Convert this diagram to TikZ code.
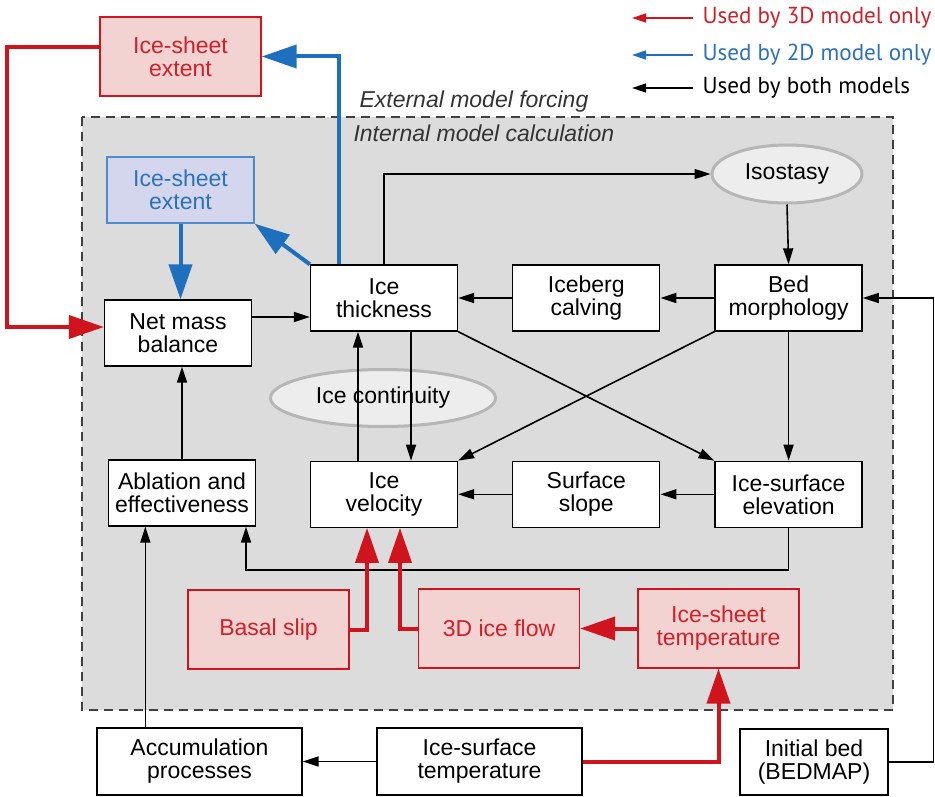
\documentclass[tikz,border=0pt]{standalone}
\usepackage{fontspec}
\setmainfont{Liberation Sans}
\newfontfamily\legendfont{PT Sans}
\usepackage{tikz}
\usetikzlibrary{shapes.geometric,arrows.meta,positioning}

\definecolor{panelgray}{HTML}{DCDCDC}
\definecolor{usedred}{HTML}{D0141E}
\definecolor{redtext}{HTML}{CF2129}
\definecolor{redfill}{HTML}{F3D2D2}
\definecolor{usedblue}{HTML}{1F6FBF}
\definecolor{bluetext}{HTML}{2C72B8}
\definecolor{blueline}{HTML}{4D8AD0}
\definecolor{bluefill}{HTML}{D4D6EE}
\definecolor{ovalgray}{HTML}{B6B6B6}
\definecolor{ovalfill}{HTML}{EDEDED}

\begin{document}
\begin{tikzpicture}[
	x=1pt, y=-1pt,
	every node/.style={align=center, font=\fontsize{23}{23}\selectfont},
	box/.style={draw, fill=white, line width=1.3pt, minimum width=147pt, minimum height=66pt, inner sep=1pt},
	widebox/.style={box, minimum width=205pt, minimum height=67pt},
	redbox/.style={box, draw=usedred, fill=redfill, text=redtext, minimum width=161pt, minimum height=79pt},
	bluebox/.style={box, draw=blueline, fill=bluefill, text=bluetext},
	ovalnode/.style={ellipse, draw=ovalgray, fill=ovalfill, line width=3pt, inner sep=0pt},
	blackarrow/.style={-{Triangle[length=16pt,width=10pt]}, line width=1.6pt},
	redarrow/.style={-{Triangle[length=35pt,width=23pt]}, line width=4pt, draw=usedred},
	bluearrow/.style={-{Triangle[length=35pt,width=23pt]}, line width=4pt, draw=usedblue},
	legendarrow/.style={-{Triangle[length=14pt,width=9pt]}, line width=1.6pt},
	legendtext/.style={anchor=west, font=\legendfont\fontsize{23.1}{23.1}\selectfont}
	]
	\useasboundingbox (0,0) rectangle (935,797);
	
	% Panel
	\draw[fill=panelgray, draw=black!75, line width=1.2pt, dash pattern=on 9pt off 6pt] (82,117) rectangle (893,710);
	\node[anchor=west, font=\itshape\fontsize{23}{23}\selectfont, text=black!80] (extlabel) at (356,102) {External model forcing};
	\node[anchor=west, font=\itshape\fontsize{23}{23}\selectfont, text=black!80] (intlabel) at (350,133) {Internal model calculation};
	
	% Legend
	\node[legendtext, text=redtext] (leg3d) at (699,18) {Used by 3D model only};
	\node[legendtext, text=bluetext] (leg2d) at (699,55) {Used by 2D model only};
	\node[legendtext] (legboth) at (699,88) {Used by both models};
	\draw[legendarrow, usedred] ([xshift=-6pt]leg3d.west) -- ++(-61,0);
	\draw[legendarrow, usedblue] ([xshift=-6pt]leg2d.west) -- ++(-61,0);
	\draw[legendarrow] ([xshift=-6pt]legboth.west) -- ++(-61,0);
	
	% Ovals
	\node[ovalnode, minimum width=150pt, minimum height=58pt] (iso) at (787,174) {Isostasy};
	\node[ovalnode, minimum width=225pt, minimum height=57pt] (cont) at (383,398) {Ice continuity};
	
	% Nodes
	\node[redbox] (extR) at (180.5,56.5) {Ice-sheet\\extent};
	\node[bluebox] (extB) at (180.5,190) {Ice-sheet\\extent};
	\node[box] (net) at (178,333) {Net mass\\balance};
	\node[box] (thick) at (384,298) {Ice\\thickness};
	\node[box, right=54pt of thick] (calv) {Iceberg\\calving};
	\node[box, right=54pt of calv] (bed) {Bed\\morphology};
	
	\node[box] (abl) at (182,493) {Ablation and\\effectiveness};
	\node[box, below=129pt of thick] (vel) {Ice\\velocity};
	\node[box, right=54pt of vel] (slope) {Surface\\slope};
	\node[box, right=54pt of slope] (surf) {Ice-surface\\elevation};
	
	\node[redbox] (basal) at (268.5,629.5) {Basal slip};
	\node[redbox] (flow3d) at (499,628.5) {3D ice flow};
	\node[redbox] (sheettemp) at (718.5,628.5) {Ice-sheet\\temperature};
	
	\node[widebox] (accum) at (199.5,761.5) {Accumulation\\processes};
	\node[widebox] (surftemp) at (479.5,761.5) {Ice-surface\\temperature};
	\node[box, minimum width=148pt] (init) at (814,762) {Initial bed\\(BEDMAP)};
	
	% Helper points
	\coordinate (netout) at ([yshift=16pt]net.east);
	\coordinate (accout) at ([xshift=49pt]accum.north west);
	
	% Arrows
	\draw[redarrow] ([yshift=9.5pt]extR.west) -- ++(-92,0) |- ([yshift=6pt]net.west);
	\draw[bluearrow] ([xshift=29pt]thick.north west) |- (extR.east);
	\draw[bluearrow] (thick.north west) -- (extB.south east);
	\draw[bluearrow] (extB.south) -- (extB.south |- net.north);
	
	\draw[blackarrow] (netout) -- (netout -| thick.west);
	\draw[blackarrow] (thick.north) |- (iso.west);
	\draw[blackarrow] (iso.south) -- (bed.north);
	\draw[blackarrow] (bed.west) -- (calv.east);
	\draw[blackarrow] (calv.west) -- (thick.east);
	\draw[blackarrow] (init.east) -- ++(45,0) |- (bed.east);
	
	\draw[blackarrow] (thick.south east) -- (surf.north west);
	\draw[blackarrow] (bed.south west) -- (vel.north east);
	\draw[blackarrow] (bed.south) -- (surf.north);
	\draw[blackarrow] (surf.west) -- (slope.east);
	\draw[blackarrow] (slope.west) -- (vel.east);
	\draw[blackarrow] ([xshift=-26pt]vel.north) -- ([xshift=-26pt]thick.south);
	\draw[blackarrow] ([xshift=27pt]thick.south) -- ([xshift=27pt]vel.north);
	\draw[blackarrow] (abl.north) -- (abl.north |- net.south);
	\draw[blackarrow] (surf.south) -- ++(0,42) -| ([xshift=64pt]abl.south);
	\draw[blackarrow] (accout) -- (accout |- abl.south);
	\draw[blackarrow] (surftemp.west) -- (accum.east);
	
	\draw[redarrow] (surftemp.east) -| (sheettemp.south);
	\draw[redarrow] (sheettemp.west) -- (flow3d.east);
	\draw[redarrow] (basal.east) -| ([xshift=-17pt]vel.south);
	\draw[redarrow] (flow3d.west) -| ([xshift=16pt]vel.south);
	
\end{tikzpicture}
\end{document}
